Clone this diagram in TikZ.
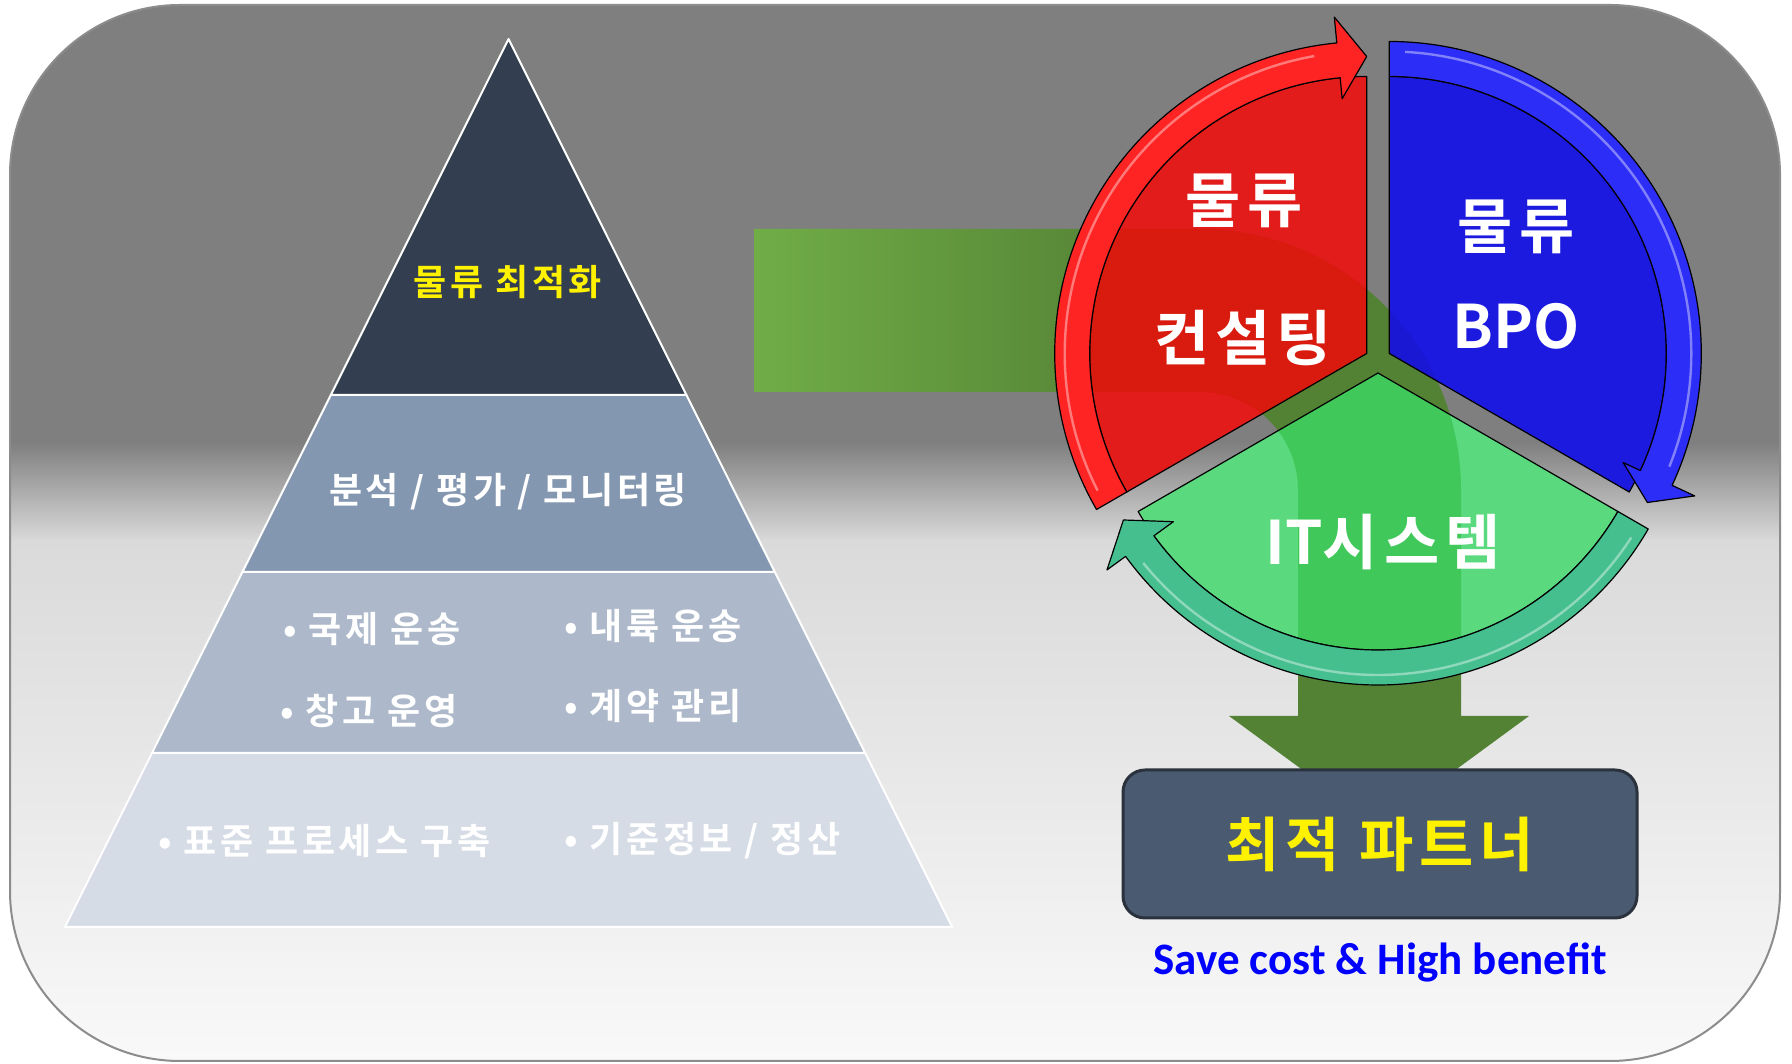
\documentclass[tikz,border=0pt]{standalone}
\usepackage{fontspec}
\usetikzlibrary{positioning}
\newfontfamily\krfont{Noto Sans CJK KR Bold}[LetterSpace=10]
\newfontfamily\krplain{Noto Sans CJK KR Bold}
\newfontfamily\capfont{Carlito Bold}
\definecolor{bggray}{HTML}{7F7F7F}
\definecolor{bglight}{HTML}{DADADA}
\definecolor{bgwhite}{HTML}{F9F9F9}
\definecolor{frame}{HTML}{8C8C8C}
\definecolor{lay1}{HTML}{333F50}
\definecolor{lay2}{HTML}{8497B0}
\definecolor{lay3}{HTML}{ADB9CA}
\definecolor{lay4}{HTML}{D6DCE5}
\definecolor{flowlight}{HTML}{70AD47}
\definecolor{flowdark}{HTML}{548235}
\definecolor{redbody}{HTML}{E21B1B}
\definecolor{redshade}{HTML}{D81B0E}
\definecolor{redring}{HTML}{FF2424}
\definecolor{bluebody}{HTML}{1C1ADF}
\definecolor{blueshade}{HTML}{1A18D2}
\definecolor{bluering}{HTML}{2D2DF8}
\definecolor{greenbody}{HTML}{5AD97E}
\definecolor{greenshade}{HTML}{40C85A}
\definecolor{greenring}{HTML}{46BF8F}
\definecolor{boxfill}{HTML}{4A5A70}
\definecolor{boxedge}{HTML}{2A323E}
\definecolor{capblue}{HTML}{0000FF}
\pgfdeclareverticalshading{bgfade}{100bp}{color(0bp)=(bgwhite); color(25bp)=(bgwhite); color(49.6bp)=(bglight); color(54.3bp)=(bggray); color(100bp)=(bggray)}
\def\flowpath{(754,835) -- (1200,835) arc[start angle=90,end angle=0,radius=261] -- (1461,348) -- (1529,348) -- (1379,238) -- (1229,348) -- (1298,348) -- (1298,574) arc[start angle=0,end angle=90,radius=98] -- (754,672) -- cycle}
\def\redpie{(0,0) -- (90:277) arc[start angle=90,end angle=210,radius=277] -- cycle}
\def\bluepie{(0,0) -- (-30:277) arc[start angle=-30,end angle=90,radius=277] -- cycle}
\def\greenpie{(0,0) -- (210:277) arc[start angle=210,end angle=330,radius=277] -- cycle}
\begin{document}
\begin{tikzpicture}[x=0.5pt, y=0.5pt,
    layer/.style={draw=white, line width=1pt, line join=round},
    tiertext/.style={font=\krfont\fontsize{18}{20}\selectfont, text=white, inner sep=0pt},
    tieritem/.style={tiertext, anchor=west},
    outline/.style={draw=black, line width=0.6pt, line join=round},
    gloss/.style={draw=white, opacity=0.4, line width=1.2pt},
    cyctext/.style={font=\krfont\fontsize{30}{32}\selectfont, text=white, inner sep=0pt},
    partner/.style={draw=boxedge, fill=boxfill, line width=1.5pt, rounded corners=11pt,
        minimum width=257pt, minimum height=74pt, text=yellow,
        font=\krfont\fontsize{29.5}{32}\selectfont},
    benefit/.style={font=\capfont\fontsize{22.5}{24}\selectfont, text=capblue, inner sep=0pt}]
    \useasboundingbox (0,0) rectangle (1792,1064);
    \fill[white] (0,0) rectangle (1792,1064);
    \shadedraw[shading=bgfade, draw=frame, line width=1pt, rounded corners=85pt] (10,3) rectangle (1780,1059);

    \filldraw[layer, fill=lay4] (65,137) -- (952.2,137) -- (865.2,311) -- (152,311) -- cycle;
    \filldraw[layer, fill=lay3] (152,311) -- (865.2,311) -- (774.8,492) -- (242.4,492) -- cycle;
    \filldraw[layer, fill=lay2] (242.4,492) -- (774.8,492) -- (686.4,669) -- (330.8,669) -- cycle;
    \filldraw[layer, fill=lay1] (330.8,669) -- (686.4,669) -- (508.6,1025) -- cycle;

    \node[tiertext, text=yellow] (optim) at (508,782) {물류 최적화};
    \node[tiertext] (monitor) at (508,572) {분석 / 평가 / 모니터링};
    \node[tieritem] (intl) at (283,435) {• 국제 운송};
    \node[tieritem] (inland) at (564,438) {• 내륙 운송};
    \node[tieritem] (storage) at (280,353) {• 창고 운영};
    \node[tieritem] (contract) at (564,358) {• 계약 관리};
    \node[tieritem] (stdproc) at (158,223) {• 표준 프로세스 구축};
    \node[tieritem] (master) at (564,223) {• 기준정보 / 정산};

    \shade[left color=flowlight, right color=flowdark, middle color=flowdark] \flowpath;

    \coordinate (cr) at (1366.7,710.5);
    \coordinate (cb) at (1389.3,710.5);
    \coordinate (cg) at (1378,691);

    \fill[redbody, shift={(cr)}] \redpie;
    \begin{scope}
        \clip[shift={(cr)}] \redpie;
        \fill[redshade] \flowpath;
    \end{scope}
    \draw[outline, shift={(cr)}] \redpie;
    \filldraw[outline, fill=redring, shift={(cr)}] (210:312) arc[start angle=210,end angle=95.5,radius=312]
        -- (95.5:338) -- (90:297) -- (95.5:256) -- (95.5:277) arc[start angle=95.5,end angle=210,radius=277] -- cycle;
    \draw[gloss, shift={(cr)}] (207:302) arc[start angle=207,end angle=100,radius=302];

    \fill[bluebody, shift={(cb)}] \bluepie;
    \begin{scope}
        \clip[shift={(cb)}] \bluepie;
        \fill[blueshade] \flowpath;
    \end{scope}
    \draw[outline, shift={(cb)}] \bluepie;
    \filldraw[outline, fill=bluering, shift={(cb)}] (90:312) arc[start angle=90,end angle=-25,radius=312]
        -- (-25:337) -- (-30:298) -- (-25:258) -- (-25:277) arc[start angle=-25,end angle=90,radius=277] -- cycle;
    \draw[gloss, shift={(cb)}] (87:302) arc[start angle=87,end angle=-22,radius=302];

    \fill[greenbody, shift={(cg)}] \greenpie;
    \begin{scope}
        \clip[shift={(cg)}] \greenpie;
        \fill[greenshade] \flowpath;
    \end{scope}
    \draw[outline, shift={(cg)}] \greenpie;
    \filldraw[outline, fill=greenring, shift={(cg)}] (330:312) arc[start angle=330,end angle=216,radius=312]
        -- (216:335) -- (210:294) -- (216:253) -- (216:277) arc[start angle=216,end angle=330,radius=277] -- cycle;
    \draw[gloss, shift={(cg)}] (327:302) arc[start angle=327,end angle=219,radius=302];

    \node[cyctext] (rtop) at (1244,863) {물류};
    \node[cyctext] (rbot) at (1243,726) {컨설팅};
    \node[cyctext] (btop) at (1516,837) {물류};
    \node[cyctext, font=\krplain\fontsize{30}{32}\selectfont] (bbot) at (1516,738) {BPO};
    \node[cyctext] (gtxt) at (1383,522) {{\krplain IT}시스템};

    \node[partner] (box) at (1380,220) {최적 파트너};
    \node[benefit, below=11.5pt of box] (gain) {Save cost \& High benefit};
\end{tikzpicture}
\end{document}
